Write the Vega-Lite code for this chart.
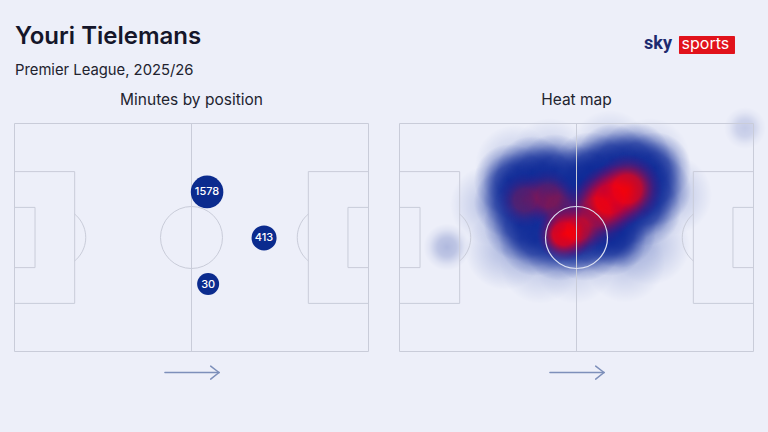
{
  "$schema": "https://vega.github.io/schema/vega-lite/v6.json",
  "width": 768,
  "height": 432,
  "autosize": {"type": "fit", "contains": "padding"},
  "padding": 0,
  "background": "#edeff9",
  "config": {"view": {"stroke": null}, "axis": {"disable": true}, "font": "Inter"},
  "datasets": {
    "lines": [
      {"x": 0, "y": 0, "x2": 100, "y2": 0},
      {"x": 0, "y": 100, "x2": 100, "y2": 100},
      {"x": 0, "y": 0, "x2": 0, "y2": 100},
      {"x": 100, "y": 0, "x2": 100, "y2": 100},
      {"x": 50, "y": 0, "x2": 50, "y2": 100},
      {"x": 0, "y": 21.1, "x2": 17, "y2": 21.1},
      {"x": 17, "y": 21.1, "x2": 17, "y2": 78.9},
      {"x": 0, "y": 78.9, "x2": 17, "y2": 78.9},
      {"x": 0, "y": 36.8, "x2": 5.8, "y2": 36.8},
      {"x": 5.8, "y": 36.8, "x2": 5.8, "y2": 63.2},
      {"x": 0, "y": 63.2, "x2": 5.8, "y2": 63.2},
      {"x": 83, "y": 21.1, "x2": 100, "y2": 21.1},
      {"x": 83, "y": 21.1, "x2": 83, "y2": 78.9},
      {"x": 83, "y": 78.9, "x2": 100, "y2": 78.9},
      {"x": 94.2, "y": 36.8, "x2": 100, "y2": 36.8},
      {"x": 94.2, "y": 36.8, "x2": 94.2, "y2": 63.2},
      {"x": 94.2, "y": 63.2, "x2": 100, "y2": 63.2}
    ],
    "arcs": [
      {"side": "L", "i": 1, "x": 17.0, "y": 39.71},
      {"side": "L", "i": 2, "x": 17.8, "y": 40.88},
      {"side": "L", "i": 3, "x": 18.56, "y": 42.33},
      {"side": "L", "i": 4, "x": 19.11, "y": 43.72},
      {"side": "L", "i": 5, "x": 19.6, "y": 45.43},
      {"side": "L", "i": 6, "x": 19.99, "y": 47.68},
      {"side": "L", "i": 7, "x": 20.12, "y": 50},
      {"side": "L", "i": 8, "x": 19.99, "y": 52.32},
      {"side": "L", "i": 9, "x": 19.6, "y": 54.57},
      {"side": "L", "i": 10, "x": 19.11, "y": 56.28},
      {"side": "L", "i": 11, "x": 18.56, "y": 57.67},
      {"side": "L", "i": 12, "x": 17.8, "y": 59.12},
      {"side": "L", "i": 13, "x": 17.0, "y": 60.29},
      {"side": "R", "i": 1, "x": 83.0, "y": 39.71},
      {"side": "R", "i": 2, "x": 82.2, "y": 40.88},
      {"side": "R", "i": 3, "x": 81.44, "y": 42.33},
      {"side": "R", "i": 4, "x": 80.89, "y": 43.72},
      {"side": "R", "i": 5, "x": 80.4, "y": 45.43},
      {"side": "R", "i": 6, "x": 80.01, "y": 47.68},
      {"side": "R", "i": 7, "x": 79.88, "y": 50},
      {"side": "R", "i": 8, "x": 80.01, "y": 52.32},
      {"side": "R", "i": 9, "x": 80.4, "y": 54.57},
      {"side": "R", "i": 10, "x": 80.89, "y": 56.28},
      {"side": "R", "i": 11, "x": 81.44, "y": 57.67},
      {"side": "R", "i": 12, "x": 82.2, "y": 59.12},
      {"side": "R", "i": 13, "x": 83.0, "y": 60.29}
    ],
    "centre": [{"x": 50, "y": 50}],
    "arrow": [
      {"x": 42.5, "y": 109.2, "x2": 57.77, "y2": 109.2},
      {"x": 55.42, "y": 106.4, "x2": 57.77, "y2": 109.2},
      {"x": 55.42, "y": 112.1, "x2": 57.77, "y2": 109.2}
    ],
    "positions": [
      {"x": 54.4, "y": 30.0, "minutes": 1578},
      {"x": 70.5, "y": 50.2, "minutes": 413},
      {"x": 54.7, "y": 70.4, "minutes": 30}
    ],
    "heat_halo": [
      {"x": 32.6, "y": 18.2, "w": 0.45},
      {"x": 42.5, "y": 15.1, "w": 0.4},
      {"x": 59.5, "y": 11.6, "w": 0.4},
      {"x": 70.8, "y": 15.1, "w": 0.4},
      {"x": 77.0, "y": 31.4, "w": 0.45},
      {"x": 70.8, "y": 53.3, "w": 0.45},
      {"x": 63.7, "y": 61.0, "w": 0.4},
      {"x": 49.6, "y": 61.5, "w": 0.35},
      {"x": 39.7, "y": 61.5, "w": 0.4},
      {"x": 29.8, "y": 55.5, "w": 0.5},
      {"x": 25.6, "y": 35.7, "w": 0.45}
    ],
    "heat_blue": [
      {"x": 31.2, "y": 24.8, "w": 1},
      {"x": 37.4, "y": 21.3, "w": 1},
      {"x": 43.9, "y": 20.4, "w": 1},
      {"x": 31.2, "y": 34.4, "w": 1},
      {"x": 37.4, "y": 31.4, "w": 1},
      {"x": 43.9, "y": 30.0, "w": 1},
      {"x": 34.0, "y": 44.5, "w": 1},
      {"x": 41.1, "y": 40.1, "w": 1},
      {"x": 46.8, "y": 37.9, "w": 1},
      {"x": 38.3, "y": 51.1, "w": 1},
      {"x": 45.3, "y": 53.3, "w": 1},
      {"x": 52.4, "y": 53.3, "w": 1},
      {"x": 59.5, "y": 51.1, "w": 1},
      {"x": 53.8, "y": 19.5, "w": 1},
      {"x": 60.0, "y": 16.0, "w": 1},
      {"x": 66.5, "y": 15.1, "w": 1},
      {"x": 72.2, "y": 19.5, "w": 1},
      {"x": 72.2, "y": 29.2, "w": 1},
      {"x": 66.5, "y": 27.0, "w": 1},
      {"x": 60.0, "y": 27.0, "w": 1},
      {"x": 53.8, "y": 31.4, "w": 1},
      {"x": 56.6, "y": 40.1, "w": 1},
      {"x": 63.7, "y": 37.9, "w": 1},
      {"x": 69.4, "y": 37.9, "w": 1},
      {"x": 49.6, "y": 44.5, "w": 1},
      {"x": 62.3, "y": 47.6, "w": 1},
      {"x": 51.3, "y": 25.7, "w": 1},
      {"x": 13.4, "y": 54.2, "w": 0.3},
      {"x": 97.6, "y": 2.0, "w": 0.2}
    ],
    "heat_red_major": [
      {"x": 59.5, "y": 33.1, "w": 1},
      {"x": 64.4, "y": 28.7, "w": 0.85},
      {"x": 55.5, "y": 38.8, "w": 0.5}
    ],
    "heat_red_minor": [
      {"x": 46.5, "y": 48.5, "w": 1},
      {"x": 50.4, "y": 46.3, "w": 0.6},
      {"x": 35.5, "y": 33.6, "w": 0.3},
      {"x": 41.9, "y": 31.8, "w": 0.3},
      {"x": 44.8, "y": 36.6, "w": 0.25}
    ],
    "labels_left": [
      {"x": 50, "y": -8.0, "label": "Minutes by position"}
    ],
    "labels_right": [
      {"x": 50, "y": -8.0, "label": "Heat map"}
    ],
    "title": [{"x": 0.14, "y": -34.74, "label": "Youri Tielemans"}],
    "subtitle": [{"x": 0.14, "y": -21.27, "label": "Premier League, 2025/26"}],
    "logo_box": [{"x": 78.95, "x2": 94.77, "y": -38.38, "y2": -30.48}],
    "logo_sky": [{"x": 76.98, "y": -32.68, "label": "sky"}],
    "logo_sports": [{"x": 86.4, "y": -32.46, "label": "sports"}]
  },
  "layer": [
    {
      "encoding": {
        "x": {"field": "x", "type": "quantitative", "axis": null, "scale": {"domain": [-4.096, 212.853], "nice": false, "zero": false}},
        "y": {"field": "y", "type": "quantitative", "axis": null, "scale": {"domain": [-54.167, 135.307], "reverse": true, "nice": false, "zero": false}}
      },
      "layer": [
        {"data": {"name": "lines"}, "mark": {"type": "rule", "stroke": "#c9ccd9", "strokeWidth": 1}, "encoding": {"x2": {"field": "x2"}, "y2": {"field": "y2"}}},
        {"data": {"name": "arcs"}, "mark": {"type": "line", "stroke": "#c9ccd9", "strokeWidth": 1, "interpolate": "catmull-rom"}, "encoding": {"detail": {"field": "side"}, "order": {"field": "i"}}},
        {"data": {"name": "centre"}, "mark": {"type": "point", "shape": "circle", "size": 3844, "stroke": "#c9ccd9", "strokeWidth": 1, "filled": false, "opacity": 1}},
        {"data": {"name": "arrow"}, "mark": {"type": "rule", "stroke": "#7d8fba", "strokeWidth": 1.5, "strokeCap": "round"}, "encoding": {"x2": {"field": "x2"}, "y2": {"field": "y2"}}},
        {"data": {"name": "positions"}, "mark": {"type": "point", "shape": "circle", "filled": true, "color": "#0b2b8e", "opacity": 1}, "encoding": {"size": {"field": "minutes", "type": "quantitative", "legend": null, "scale": {"domain": [30, 1578], "range": [484, 1060]}}}},
        {"data": {"name": "positions"}, "mark": {"type": "text", "color": "#ffffff", "fontSize": 11, "fontWeight": 500, "baseline": "middle", "align": "center", "dy": 0.5}, "encoding": {"text": {"field": "minutes", "type": "nominal"}}},
        {"data": {"name": "labels_left"}, "mark": {"type": "text", "fontSize": 15.5, "color": "#22232f", "align": "center", "baseline": "alphabetic"}, "encoding": {"text": {"field": "label", "type": "nominal"}}},
        {"data": {"name": "title"}, "mark": {"type": "text", "fontSize": 24, "fontWeight": 600, "color": "#15162a", "align": "left", "baseline": "alphabetic"}, "encoding": {"text": {"field": "label", "type": "nominal"}}},
        {"data": {"name": "subtitle"}, "mark": {"type": "text", "fontSize": 14.8, "color": "#22232f", "align": "left", "baseline": "alphabetic"}, "encoding": {"text": {"field": "label", "type": "nominal"}}}
      ],
      "resolve": {"scale": {"size": "independent"}}
    },
    {
      "encoding": {
        "x": {"field": "x", "type": "quantitative", "axis": null, "scale": {"domain": [-112.853, 104.096], "nice": false, "zero": false}},
        "y": {"field": "y", "type": "quantitative", "axis": null, "scale": {"domain": [-54.167, 135.307], "reverse": true, "nice": false, "zero": false}}
      },
      "layer": [
        {"data": {"name": "heat_halo"}, "mark": {"type": "point", "shape": "circle", "filled": true, "strokeWidth": 0, "size": 6400, "fill": {"gradient": "radial", "x1": 0.5, "y1": 0.5, "r1": 0, "x2": 0.5, "y2": 0.5, "r2": 0.5, "stops": [{"offset": 0, "color": "rgba(30,60,165,0.6)"}, {"offset": 0.5, "color": "rgba(30,60,165,0.3)"}, {"offset": 1, "color": "rgba(30,60,165,0)"}]}}, "encoding": {"opacity": {"field": "w", "type": "quantitative", "legend": null, "scale": {"domain": [0, 1], "range": [0, 1]}}}},
        {"data": {"name": "heat_blue"}, "mark": {"type": "point", "shape": "circle", "filled": true, "strokeWidth": 0, "fill": {"gradient": "radial", "x1": 0.5, "y1": 0.5, "r1": 0, "x2": 0.5, "y2": 0.5, "r2": 0.5, "stops": [{"offset": 0, "color": "rgba(12,40,150,0.9)"}, {"offset": 0.4, "color": "rgba(12,40,150,0.7)"}, {"offset": 0.75, "color": "rgba(12,40,150,0.2)"}, {"offset": 1, "color": "rgba(12,40,150,0)"}]}}, "encoding": {"size": {"field": "w", "type": "quantitative", "legend": null, "scale": {"domain": [0, 1], "range": [900, 5200]}}, "opacity": {"field": "w", "type": "quantitative", "legend": null, "scale": {"domain": [0, 1], "range": [0, 1]}}}},
        {"data": {"name": "heat_red_major"}, "mark": {"type": "point", "shape": "circle", "filled": true, "strokeWidth": 0, "size": 4900, "fill": {"gradient": "radial", "x1": 0.5, "y1": 0.5, "r1": 0, "x2": 0.5, "y2": 0.5, "r2": 0.5, "stops": [{"offset": 0, "color": "rgba(255,0,0,1)"}, {"offset": 0.4, "color": "rgba(250,0,12,0.85)"}, {"offset": 0.75, "color": "rgba(160,0,80,0.3)"}, {"offset": 1, "color": "rgba(100,0,120,0)"}]}}, "encoding": {"opacity": {"field": "w", "type": "quantitative", "legend": null, "scale": {"domain": [0, 1], "range": [0, 1]}}}},
        {"data": {"name": "heat_red_minor"}, "mark": {"type": "point", "shape": "circle", "filled": true, "strokeWidth": 0, "size": 3025, "fill": {"gradient": "radial", "x1": 0.5, "y1": 0.5, "r1": 0, "x2": 0.5, "y2": 0.5, "r2": 0.5, "stops": [{"offset": 0, "color": "rgba(255,0,0,1)"}, {"offset": 0.4, "color": "rgba(250,0,12,0.85)"}, {"offset": 0.75, "color": "rgba(160,0,80,0.3)"}, {"offset": 1, "color": "rgba(100,0,120,0)"}]}}, "encoding": {"opacity": {"field": "w", "type": "quantitative", "legend": null, "scale": {"domain": [0, 1], "range": [0, 1]}}}},
        {"data": {"name": "lines"}, "mark": {"type": "rule", "stroke": "#c9ccd9", "strokeWidth": 1}, "encoding": {"x2": {"field": "x2"}, "y2": {"field": "y2"}}},
        {"data": {"name": "arcs"}, "mark": {"type": "line", "stroke": "#c9ccd9", "strokeWidth": 1, "interpolate": "catmull-rom"}, "encoding": {"detail": {"field": "side"}, "order": {"field": "i"}}},
        {"data": {"name": "centre"}, "mark": {"type": "point", "shape": "circle", "size": 3844, "stroke": "#dde1f2", "strokeWidth": 1.2, "filled": false, "opacity": 1}},
        {"data": {"name": "arrow"}, "mark": {"type": "rule", "stroke": "#7d8fba", "strokeWidth": 1.5, "strokeCap": "round"}, "encoding": {"x2": {"field": "x2"}, "y2": {"field": "y2"}}},
        {"data": {"name": "labels_right"}, "mark": {"type": "text", "fontSize": 15.5, "color": "#22232f", "align": "center", "baseline": "alphabetic"}, "encoding": {"text": {"field": "label", "type": "nominal"}}},
        {"data": {"name": "logo_box"}, "mark": {"type": "rect", "color": "#e1121b", "opacity": 1, "cornerRadius": 1}, "encoding": {"x2": {"field": "x2"}, "y2": {"field": "y2"}}},
        {"data": {"name": "logo_sky"}, "mark": {"type": "text", "font": "Roboto", "fontSize": 18, "fontWeight": "bold", "color": "#1d2a6f", "align": "right", "baseline": "alphabetic"}, "encoding": {"text": {"field": "label", "type": "nominal"}}},
        {"data": {"name": "logo_sports"}, "mark": {"type": "text", "fontSize": 16, "fontWeight": 400, "color": "#ffffff", "align": "center", "baseline": "alphabetic"}, "encoding": {"text": {"field": "label", "type": "nominal"}}}
      ],
      "resolve": {"scale": {"size": "independent", "opacity": "independent"}}
    }
  ],
  "resolve": {"scale": {"x": "independent", "y": "independent"}}
}
